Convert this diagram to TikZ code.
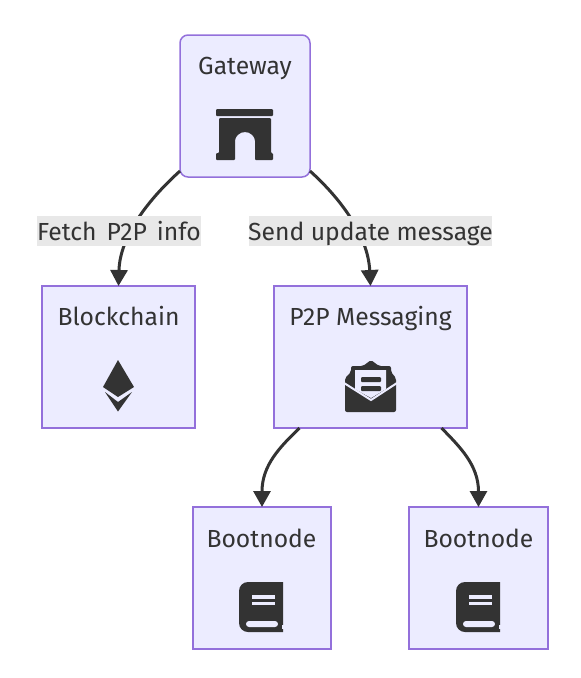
\documentclass[tikz,border=0pt]{standalone}
\usepackage{fontspec}
\setmainfont{Fira Sans}
\usetikzlibrary{arrows.meta}
\definecolor{boxfill}{HTML}{ECECFF}
\definecolor{boxline}{HTML}{9370DB}
\definecolor{ink}{HTML}{333333}
\definecolor{labelfill}{HTML}{E8E8E8}
\tikzset{
  box/.style={draw=boxline, fill=boxfill, line width=1.5pt, outer sep=0pt},
  title/.style={anchor=base, inner sep=0pt, text=ink, font=\fontsize{24.7}{28}\selectfont},
  edgelabel/.style={fill=labelfill, inner sep=0pt, minimum height=30pt},
  edge/.style={draw=ink, line width=3pt, -{Triangle[length=16pt,width=17pt]}},
  bookicon/.pic={
    \fill[ink] (44,50) [rounded corners=9pt] -- (0,50) -- (0,0) -- (30,0) [sharp corners] -- (44,0) -- cycle;
    \fill[boxfill] (13,13) rectangle (36,17);
    \fill[boxfill] (13,20) rectangle (36,23);
    \fill[boxfill, rounded corners=3pt] (7,39) -- (39,39) -- (39,45) -- (7,45) -- cycle;
    \fill[boxfill] (42.5,43) rectangle (45,47);
  }
}
\begin{document}
\begin{tikzpicture}[x=1pt, y=-1pt]
\useasboundingbox (0,0) rectangle (581,678);

\node[box, rounded corners=8pt, minimum width=130pt, minimum height=142pt] (gateway) at (245,106) {};
\node[box, minimum width=153pt, minimum height=142pt] (blockchain) at (118.5,357) {};
\node[box, minimum width=193pt, minimum height=142pt] (messaging) at (370.5,357) {};
\node[box, minimum width=138pt, minimum height=142pt] (bootleft) at (262,578) {};
\node[box, minimum width=139pt, minimum height=142pt] (bootright) at (478.5,578) {};

\node[title] (gatewaytext) at (245,74) {Gateway};
\node[title] (blockchaintext) at (118.5,325) {Blockchain};
\node[title] (messagingtext) at (370.5,325) {P2P Messaging};
\node[title] (bootlefttext) at (261.5,547) {Bootnode};
\node[title] (bootrighttext) at (478.5,547) {Bootnode};

% arch
\fill[ink, rounded corners=1pt] (216,109) rectangle (273,116);
\fill[ink, rounded corners=1pt] (219,118) -- (271,118) -- (271,153) -- (273,153) -- (273,160) -- (255,160)
  -- (255,142) arc (0:-180:10) -- (235,160) -- (216,160) -- (216,153) -- (219,153) -- cycle;

% envelope
\fill[ink, rounded corners=2pt] (345,378) -- (351,372) -- (351,366) -- (363,366) -- (371,360) -- (379,366)
  -- (391,366) -- (391,372) -- (396,378) -- (396,412) -- (345,412) -- cycle;
\fill[boxfill] (355,370) -- (386,370) -- (386,389) -- (371,398) -- (355,389) -- cycle;
\draw[boxfill, line width=2pt] (344,383) -- (371,400) -- (397,383);
\fill[ink, rounded corners=1pt] (361,377) rectangle (381,382);
\fill[ink, rounded corners=1pt] (361,386) rectangle (381,391);

% ether
\fill[ink] (118,360) -- (134,387) -- (118,397) -- (103,387) -- cycle;
\fill[ink] (105,392) -- (118,402) -- (132,392) -- (118,411.5) -- cycle;

\pic at (239,582) {bookicon};
\pic at (456,582) {bookicon};

\draw[edge] (gateway.-135) .. controls (150,198) and (120,235) .. (blockchain.north);
\draw[edge] (gateway.-45) .. controls (340,198) and (368,235) .. (messaging.north);
\draw[edge] (messaging.-135) .. controls (280,447) and (262,465) .. (bootleft.north);
\draw[edge] (messaging.-45) .. controls (460,447) and (478.5,465) .. (bootright.north);

\node[edgelabel, minimum width=164pt] (fetchlabel) at (119,231) {};
\node[edgelabel, minimum width=243pt] (sendlabel) at (370.5,231) {};
\node[title] (fetchtext) at (119,240) {\spaceskip=10pt Fetch P2P info};
\node[title] (sendtext) at (370.5,240) {\spaceskip=6.5pt Send update message};
\end{tikzpicture}
\end{document}
